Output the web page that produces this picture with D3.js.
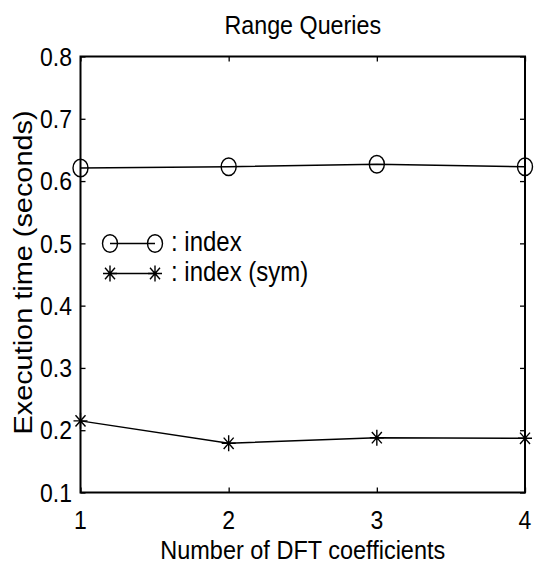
<!DOCTYPE html>
<html><head><meta charset="utf-8">
<script src="https://cdn.jsdelivr.net/npm/d3@7"></script>
<style>
html,body{margin:0;padding:0;background:#fff;}
text{font-family:"Liberation Sans",Arial,Helvetica,sans-serif;fill:#000;}
</style></head>
<body>
<svg id="chart" width="534" height="569"></svg>
<script>
const categories = [1, 2, 3, 4];
const indexValues = [0.621, 0.623, 0.627, 0.623];
const indexSymValues = [0.215, 0.179, 0.188, 0.187];
const xTicks = [1, 2, 3, 4];
const yTicks = [0.1, 0.2, 0.3, 0.4, 0.5, 0.6, 0.7, 0.8];
const seriesNames = [": index", ": index (sym)"];
const titleText = "Range Queries";
const xLabelText = "Number of DFT coefficients";
const yLabelText = "Execution time (seconds)";

const svg = d3.select("#chart");
const L = 80.5, R = 525, T = 56.5, B = 492.5;
const S = 1.12; // vertical stretch of text
const x = d3.scaleLinear().domain([1, 4]).range([L, R]);
const y = d3.scaleLinear().domain([0.1, 0.8]).range([B, T]);

// ticks (inward on all sides)
const tk = 5;
svg.append("g").attr("transform", `translate(0,${B})`)
  .call(d3.axisBottom(x).tickValues(xTicks).tickSize(-tk).tickFormat(""));
svg.append("g").attr("transform", `translate(0,${T})`)
  .call(d3.axisTop(x).tickValues(xTicks).tickSize(-tk).tickFormat(""));
svg.append("g").attr("transform", `translate(${L},0)`)
  .call(d3.axisLeft(y).tickValues(yTicks).tickSize(-tk).tickFormat(""));
svg.append("g").attr("transform", `translate(${R},0)`)
  .call(d3.axisRight(y).tickValues(yTicks).tickSize(-tk).tickFormat(""));
svg.selectAll(".domain").remove();
svg.selectAll(".tick line").attr("stroke", "#000").attr("stroke-width", 1.3);

// frame
svg.append("rect").attr("x", L).attr("y", T).attr("width", R - L).attr("height", B - T)
  .attr("fill", "none").attr("stroke", "#000").attr("stroke-width", 2);

// tick labels
svg.selectAll(".xtl").data(xTicks).enter().append("text")
  .attr("transform", d => `translate(${x(d)},528.5) scale(1,${S})`)
  .attr("text-anchor", "middle").attr("font-size", 23).text(d => d);
svg.selectAll(".ytl").data(yTicks).enter().append("text")
  .attr("transform", d => `translate(72,${y(d) + 9.2}) scale(1,${S})`)
  .attr("text-anchor", "end").attr("font-size", 23).text(d => d.toFixed(1));

// title and axis labels
svg.append("text").attr("transform", `translate(${(L + R) / 2},34) scale(1,${S})`)
  .attr("text-anchor", "middle").attr("font-size", 23.3).text(titleText);
svg.append("text").attr("transform", `translate(${(L + R) / 2},559) scale(1,${S})`)
  .attr("text-anchor", "middle").attr("font-size", 23.5).text(xLabelText);
svg.append("text").attr("transform", `translate(32,272.5) rotate(-90) scale(1.09,1)`)
  .attr("text-anchor", "middle").attr("font-size", 26.5).text(yLabelText);

// markers
const circ = (g, cx, cy) => g.append("ellipse").attr("cx", cx).attr("cy", cy)
  .attr("rx", 7.5).attr("ry", 8.8).attr("fill", "none").attr("stroke", "#000").attr("stroke-width", 1.4);
const star = (g, cx, cy) => {
  const a = 7, b = 8, c = 5, d = 5.7;
  g.append("path").attr("d",
    `M${cx - a},${cy}L${cx + a},${cy}M${cx},${cy - b}L${cx},${cy + b}` +
    `M${cx - c},${cy - d}L${cx + c},${cy + d}M${cx - c},${cy + d}L${cx + c},${cy - d}`)
    .attr("stroke", "#000").attr("stroke-width", 1.4).attr("fill", "none");
};

const line = d3.line().x((d, i) => x(categories[i])).y(d => y(d));
const gData = svg.append("g");
gData.append("path").datum(indexValues).attr("d", line)
  .attr("fill", "none").attr("stroke", "#000").attr("stroke-width", 1.5);
gData.append("path").datum(indexSymValues).attr("d", line)
  .attr("fill", "none").attr("stroke", "#000").attr("stroke-width", 1.5);
indexValues.forEach((v, i) => circ(gData, x(categories[i]), y(v)));
indexSymValues.forEach((v, i) => star(gData, x(categories[i]), y(v)));

// legend
const lg = svg.append("g");
const lx1 = 110, lx2 = 155, ly = [243.5, 273.5];
lg.append("line").attr("x1", lx1).attr("x2", lx2).attr("y1", ly[0]).attr("y2", ly[0])
  .attr("stroke", "#000").attr("stroke-width", 1.5);
circ(lg, lx1, ly[0]); circ(lg, lx2, ly[0]);
lg.append("line").attr("x1", lx1).attr("x2", lx2).attr("y1", ly[1]).attr("y2", ly[1])
  .attr("stroke", "#000").attr("stroke-width", 1.5);
star(lg, lx1, ly[1]); star(lg, lx2, ly[1]);
seriesNames.forEach((s, i) => {
  lg.append("text").attr("transform", `translate(171,${ly[i] + 7}) scale(1,${S})`)
    .attr("font-size", 24).text(s);
});
</script>
</body></html>
